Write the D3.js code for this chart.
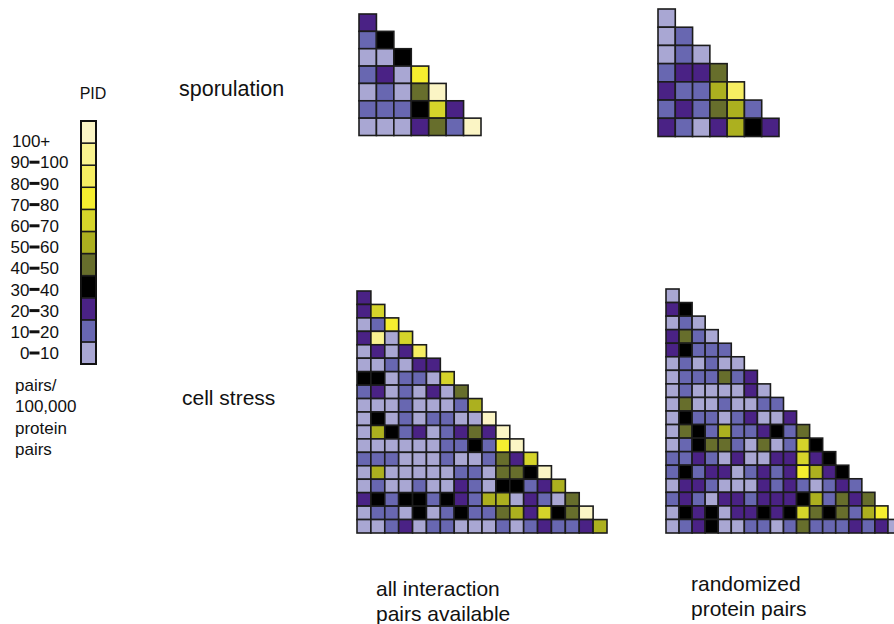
<!DOCTYPE html>
<html lang="en">
<head>
<meta charset="UTF-8">
<title>PID triangle heatmaps</title>
<script src="https://d3js.org/d3.v7.min.js"></script>
<style>
  body { margin: 0; background: #fff; }
  text { font-family: "Liberation Sans", Arial, Helvetica, sans-serif; fill: #111; }
</style>
</head>
<body>
<script>
// PID bins, lowest first
const pidLabels = ["0-10", "10-20", "20-30", "30-40", "40-50", "50-60",
                   "60-70", "70-80", "80-90", "90-100", "100+"];
const pidColors = ["#a9a7d3", "#6867b1", "#4a2285", "#000000", "#676e2c", "#acb01f",
                   "#d5d42a", "#f5ee2f", "#f6ee62", "#f9f38f", "#fbf5c5"];

// bin index per cell, row by row (lower triangle)
const sporAll = [
  [2],
  [1,3],
  [0,0,3],
  [1,2,0,7],
  [0,1,0,4,10],
  [1,1,1,3,6,2],
  [0,0,0,2,4,1,10]
];
const sporRandom = [
  [0],
  [0,1],
  [0,1,0],
  [1,2,2,4],
  [2,1,1,5,8],
  [1,2,1,4,5,1],
  [2,1,0,2,5,3,2]
];
const stressAll = [
  [2],
  [2,6],
  [0,1,7],
  [2,9,0,6],
  [0,2,0,2,8],
  [0,0,1,0,2,2],
  [3,3,0,1,1,0,6],
  [1,2,0,1,0,2,0,4],
  [0,0,0,1,0,0,0,1,5],
  [0,3,0,1,0,1,1,0,0,10],
  [0,5,3,1,2,0,1,2,4,2,10],
  [0,0,0,0,0,0,1,1,3,1,7,10],
  [1,1,1,0,0,0,1,0,0,1,4,2,6],
  [0,5,0,0,0,0,0,1,1,0,4,4,3,10],
  [0,1,0,0,1,0,0,2,1,0,3,3,1,2,5],
  [2,3,1,3,3,1,3,2,1,5,5,0,2,1,0,4],
  [0,1,1,0,3,0,1,3,1,1,4,5,2,6,3,4,10],
  [0,0,1,2,0,1,1,0,0,0,1,0,1,2,1,1,2,5]
];
const stressRandom = [
  [0],
  [2,3],
  [0,1,0],
  [2,4,1,0],
  [2,3,1,1,1],
  [0,1,0,1,0,0],
  [0,1,1,1,4,1,2],
  [0,1,0,0,0,0,2,0],
  [0,4,0,0,1,0,0,1,1],
  [0,3,1,1,0,1,2,0,0,2],
  [0,4,3,1,5,1,1,2,3,1,4],
  [0,1,3,4,4,1,0,4,0,1,6,3],
  [1,1,2,1,0,2,0,0,2,2,6,2,3],
  [1,3,1,2,2,0,1,2,1,2,7,5,2,3],
  [0,2,2,1,0,0,0,2,1,2,1,0,1,2,1],
  [1,2,1,0,2,2,1,2,2,2,3,5,1,4,2,4],
  [0,3,2,3,0,2,2,3,2,3,6,4,3,4,1,5,7],
  [0,1,2,3,0,0,1,1,0,1,4,1,1,1,2,1,2,0]
];

const width = 894, height = 624;
const svg = d3.select("body").append("svg")
  .attr("width", width)
  .attr("height", height);

const color = d3.scaleOrdinal().domain(d3.range(pidColors.length)).range(pidColors);

// triangles
const panels = [
  { data: sporAll,      x: [359, 481], y: [14, 135.5] },
  { data: sporRandom,   x: [658, 779], y: [9, 136.5] },
  { data: stressAll,    x: [357, 607], y: [291, 533] },
  { data: stressRandom, x: [666, 901], y: [289, 533] }
];

panels.forEach(p => {
  const n = p.data.length;
  const xs = d3.scaleBand().domain(d3.range(n)).range(p.x);
  const ys = d3.scaleBand().domain(d3.range(n)).range(p.y);
  const cells = p.data.flatMap((row, i) => row.map((v, j) => ({ i, j, v })));
  svg.append("g").selectAll("rect")
    .data(cells)
    .join("rect")
      .attr("x", d => xs(d.j))
      .attr("y", d => ys(d.i))
      .attr("width", xs.bandwidth())
      .attr("height", ys.bandwidth())
      .attr("fill", d => color(d.v))
      .attr("stroke", "#1c1c1c")
      .attr("stroke-width", 1.6);
});

// legend
const legY = d3.scaleBand().domain(d3.range(pidColors.length).reverse()).range([121, 364]);
const leg = svg.append("g");
leg.selectAll("rect")
  .data(d3.range(pidColors.length))
  .join("rect")
    .attr("x", 81)
    .attr("y", d => legY(d))
    .attr("width", 15)
    .attr("height", legY.bandwidth())
    .attr("fill", d => color(d))
    .attr("stroke", "#1c1c1c")
    .attr("stroke-width", 1.5);
leg.append("rect")
  .attr("x", 81).attr("y", 121)
  .attr("width", 15).attr("height", 243)
  .attr("fill", "none")
  .attr("stroke", "#111")
  .attr("stroke-width", 2);

leg.append("text")
  .attr("x", 93).attr("y", 99)
  .attr("text-anchor", "middle")
  .attr("font-size", 16)
  .text("PID");

const labY = d3.scalePoint().domain(d3.range(pidLabels.length).reverse()).range([141, 353]);
const labs = leg.append("g").selectAll("g")
  .data(pidLabels)
  .join("g")
    .attr("transform", (d, i) => `translate(0,${labY(i)})`);
labs.each(function(d) {
  const g = d3.select(this);
  const parts = d.split("-");
  if (parts.length === 1) {
    g.append("text").attr("x", 12).attr("dy", "0.36em")
      .attr("font-size", 17).text(d);
  } else {
    g.append("text").attr("x", 29.5).attr("dy", "0.36em")
      .attr("text-anchor", "end").attr("font-size", 17).text(parts[0]);
    g.append("line")
      .attr("x1", 29.5).attr("x2", 39.5)
      .attr("y1", 0).attr("y2", 0)
      .attr("stroke", "#111").attr("stroke-width", 3);
    g.append("text").attr("x", 40).attr("dy", "0.36em")
      .attr("font-size", 17).text(parts[1]);
  }
});

const unitLines = ["pairs/", "100,000", "protein", "pairs"];
leg.append("text")
  .attr("font-size", 17)
  .selectAll("tspan")
  .data(unitLines)
  .join("tspan")
    .attr("x", 15)
    .attr("y", (d, i) => 391 + i * 21.3)
    .text(d => d);

// row titles
svg.append("text").attr("x", 179).attr("y", 96)
  .attr("font-size", 21.5).text("sporulation");
svg.append("text").attr("x", 182).attr("y", 405)
  .attr("font-size", 21).text("cell stress");

// column titles
const colTitles = [
  { x: 376, y: 596, lines: ["all interaction", "pairs available"] },
  { x: 691, y: 591, lines: ["randomized", "protein pairs"] }
];
colTitles.forEach(c => {
  svg.append("text")
    .attr("font-size", 21)
    .selectAll("tspan")
    .data(c.lines)
    .join("tspan")
      .attr("x", c.x)
      .attr("y", (d, i) => c.y + i * 24.5)
      .text(d => d);
});
</script>
</body>
</html>
